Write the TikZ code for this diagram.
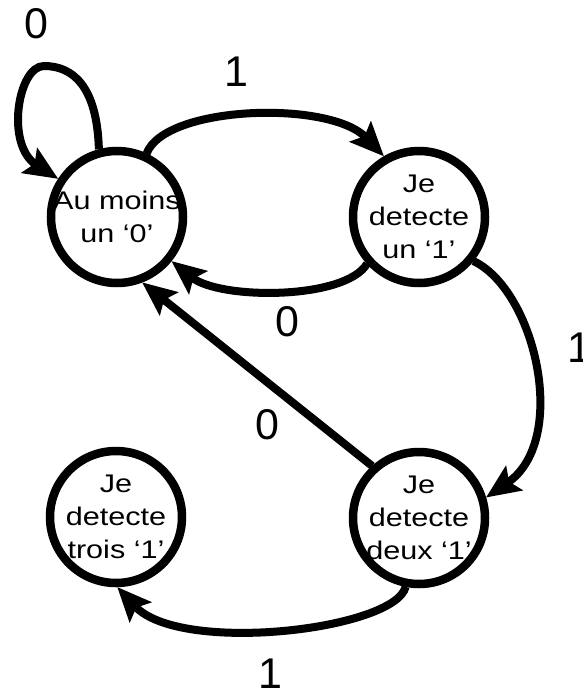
\documentclass[tikz,border=0pt]{standalone}
\usepackage{fontspec}
\setmainfont{Liberation Sans}
\newfontfamily\statefont[FakeStretch=1.2]{Liberation Sans}
\usetikzlibrary{arrows.meta}

\tikzset{
  state/.style={circle, draw, line width=8.5pt, minimum size=132pt,
    inner sep=-30pt, outer sep=4pt, align=center,
    font=\statefont\fontsize{25.5}{33.3}\selectfont},
  trans/.style={line width=8pt,
    -{Stealth[length=34pt,width=29pt,inset=6pt]}},
  lbl/.style={inner sep=0pt, font=\fontsize{43}{43}\selectfont},
}

\begin{document}
\begin{tikzpicture}[x=1pt, y=-1pt]
  \useasboundingbox (0,0) rectangle (583,693);

  % states
  \node[state] (A) at (117,217) {Au moins\\un ‘0’};
  \node[state] (B) at (419,217) {Je\\detecte\\un ‘1’};
  \node[state] (C) at (116,517) {Je\\detecte\\trois ‘1’};
  \node[state] (D) at (419,518) {Je\\detecte\\deux ‘1’};

  % transitions
  \draw[trans] (A.105) .. controls (97,85) and (72,66) .. (44,66)
                       .. controls (18,66) and (5,145) .. (A.147);
  \draw[trans] (A.65) .. controls (165,105) and (330,100) .. (B.120);
  \draw[trans] (B.222) .. controls (345,300) and (220,300) .. (A.321);
  \draw[trans] (B.321) .. controls (535,290) and (570,440) .. (D.17);
  \draw[trans] (D.132) -- (A.291);
  \draw[trans] (D.259) .. controls (395,630) and (180,655) .. (C.271);

  % input labels
  \node[lbl] (l1) at (36,24) {0};
  \node[lbl] (l2) at (236.5,72) {1};
  \node[lbl] (l3) at (287.5,322) {0};
  \node[lbl] (l4) at (579.5,348) {1};
  \node[lbl] (l5) at (267.5,424.5) {0};
  \node[lbl] (l6) at (270.5,674) {1};
\end{tikzpicture}
\end{document}
